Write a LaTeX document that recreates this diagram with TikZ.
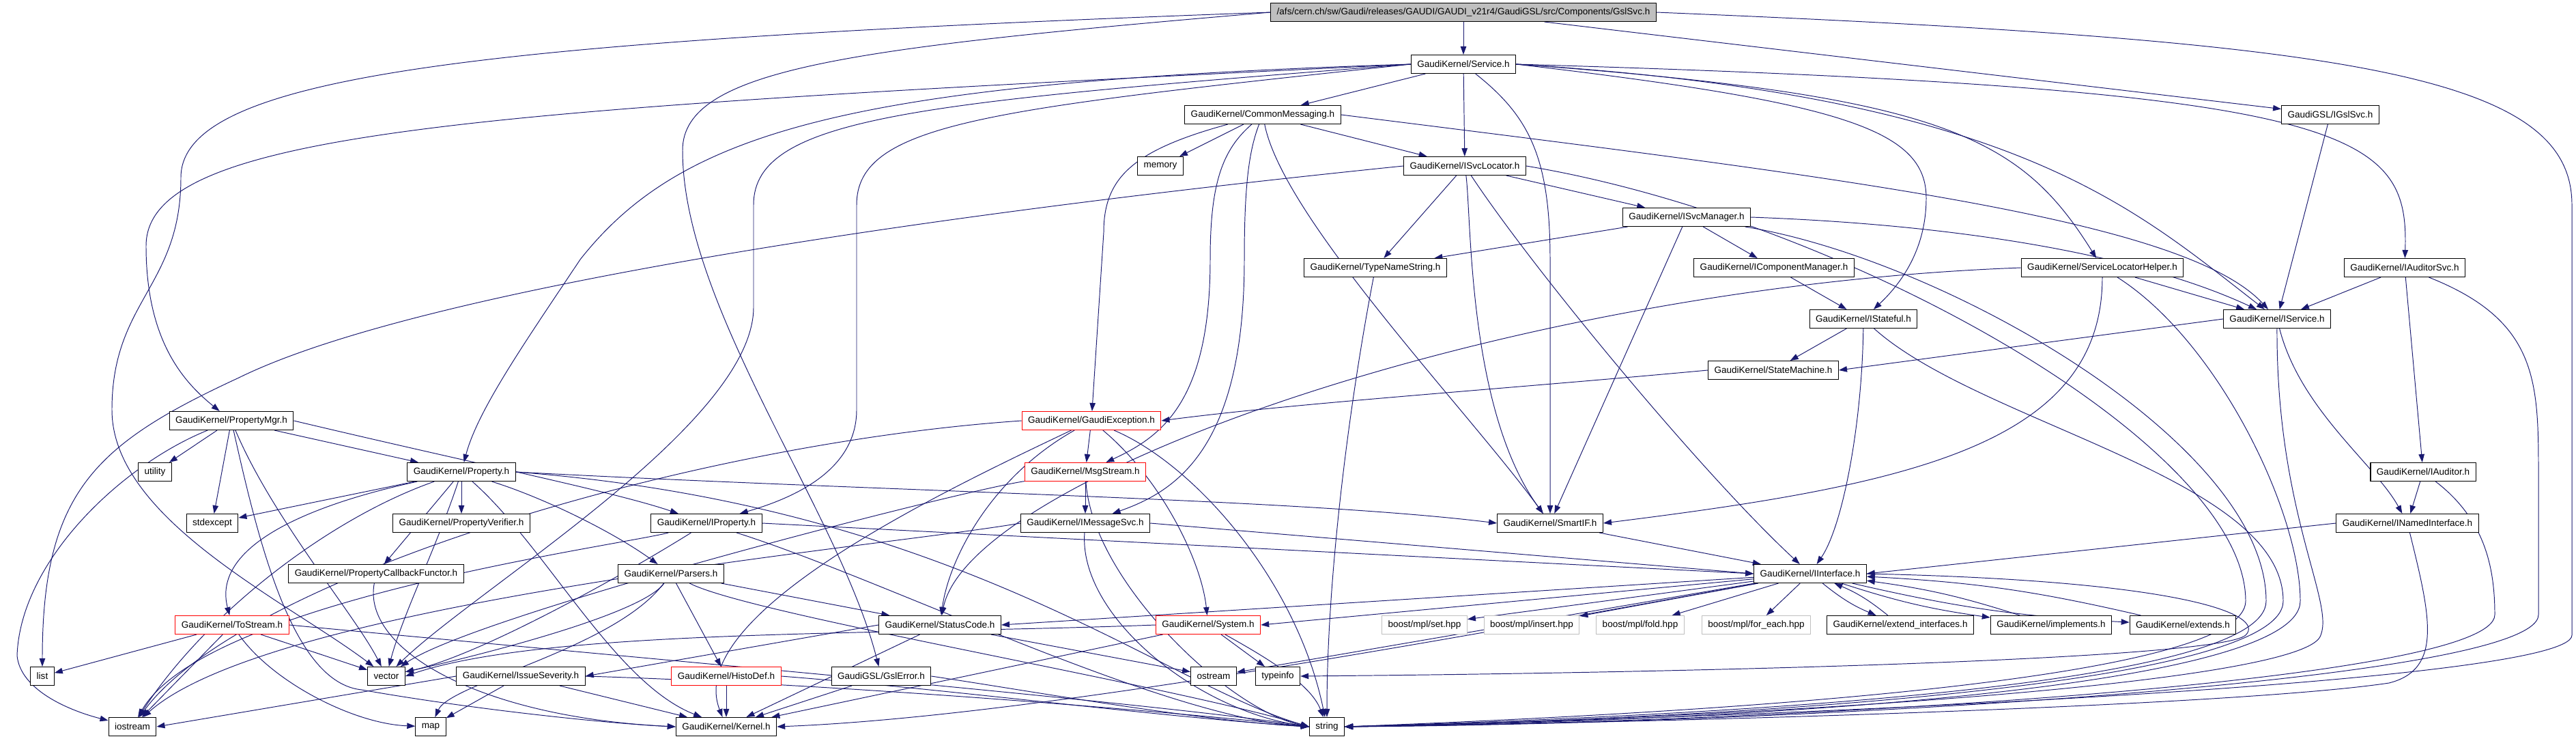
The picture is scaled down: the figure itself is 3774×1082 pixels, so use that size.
\documentclass[tikz,border=0pt]{standalone}
\usepackage{fontspec}
\setmainfont{Liberation Sans}
\usetikzlibrary{arrows.meta}
\definecolor{edgeblue}{RGB}{25,25,112}
\pgfdeclarelayer{background}
\pgfsetlayers{background,main}

\begin{document}
\begin{tikzpicture}[x=0.02cm,y=-0.02cm,>={Triangle[length=0.24cm,width=0.17cm]},
  file/.style={draw,fill=white,line width=0.6pt,inner xsep=0.18cm,inner ysep=0pt,minimum height=0.54cm,font=\fontsize{7.7}{9}\selectfont},
  truncfile/.style={file,draw=red},
  sysfile/.style={file,draw=black!25},
  inc/.style={->,draw=edgeblue,line width=0.55pt}]
  \useasboundingbox (0,0) rectangle (3774,1082);

  \node[file,fill=black!25] (root) at (2144,18) {/afs/cern.ch/sw/Gaudi/releases/GAUDI/GAUDI\_v21r4/GaudiGSL/src/Components/GslSvc.h};
  \node[file] (service) at (2144,94) {GaudiKernel/Service.h};
  \node[file] (commsg) at (1850,168) {GaudiKernel/CommonMessaging.h};
  \node[file] (memory) at (1700,243) {memory};
  \node[file] (svcloc) at (2146,243) {GaudiKernel/ISvcLocator.h};
  \node[file] (svcmgr) at (2471,318) {GaudiKernel/ISvcManager.h};
  \node[file] (igslsvc) at (3414,168) {GaudiGSL/IGslSvc.h};
  \node[file] (typename) at (2015,392) {GaudiKernel/TypeNameString.h};
  \node[file] (compmgr) at (2599,392) {GaudiKernel/IComponentManager.h};
  \node[file] (slhelper) at (3080,392) {GaudiKernel/ServiceLocatorHelper.h};
  \node[file] (iaudsvc) at (3523,392) {GaudiKernel/IAuditorSvc.h};
  \node[file] (istateful) at (2730,467) {GaudiKernel/IStateful.h};
  \node[file] (iservice) at (3336,467) {GaudiKernel/IService.h};
  \node[file] (statemach) at (2598,542) {GaudiKernel/StateMachine.h};
  \node[file] (propmgr) at (339,616) {GaudiKernel/PropertyMgr.h};
  \node[truncfile] (gexcept) at (1599,616) {GaudiKernel/GaudiException.h};
  \node[file] (utility) at (227,691) {utility};
  \node[file] (property) at (676,691) {GaudiKernel/Property.h};
  \node[truncfile] (msgstream) at (1590,691) {GaudiKernel/MsgStream.h};
  \node[file] (iauditor) at (3550,691) {GaudiKernel/IAuditor.h};
  \node[file] (stdexcept) at (311,766) {stdexcept};
  \node[file] (propverif) at (676,766) {GaudiKernel/PropertyVerifier.h};
  \node[file] (iproperty) at (1035,766) {GaudiKernel/IProperty.h};
  \node[file] (imsgsvc) at (1590,766) {GaudiKernel/IMessageSvc.h};
  \node[file] (smartif) at (2271,766) {GaudiKernel/SmartIF.h};
  \node[file] (inamed) at (3527,766) {GaudiKernel/INamedInterface.h};
  \node[file] (pcbfunctor) at (551,840) {GaudiKernel/PropertyCallbackFunctor.h};
  \node[file] (parsers) at (983,840) {GaudiKernel/Parsers.h};
  \node[file] (iinterface) at (2652,840) {GaudiKernel/IInterface.h};
  \node[truncfile] (tostream) at (340,915) {GaudiKernel/ToStream.h};
  \node[file] (statuscode) at (1377,915) {GaudiKernel/StatusCode.h};
  \node[truncfile] (system) at (1770,915) {GaudiKernel/System.h};
  \node[sysfile] (mplset) at (2087,915) {boost/mpl/set.hpp};
  \node[sysfile] (mplinsert) at (2244,915) {boost/mpl/insert.hpp};
  \node[sysfile] (mplfold) at (2403,915) {boost/mpl/fold.hpp};
  \node[sysfile] (mplforeach) at (2573,915) {boost/mpl/for\_each.hpp};
  \node[file] (extendif) at (2784,915) {GaudiKernel/extend\_interfaces.h};
  \node[file] (implements) at (3005,915) {GaudiKernel/implements.h};
  \node[file] (extends) at (3198,915) {GaudiKernel/extends.h};
  \node[file] (list) at (62,990) {list};
  \node[file] (vector) at (566,990) {vector};
  \node[file] (severity) at (763,990) {GaudiKernel/IssueSeverity.h};
  \node[truncfile] (histodef) at (1064,990) {GaudiKernel/HistoDef.h};
  \node[file] (gslerror) at (1291,990) {GaudiGSL/GslError.h};
  \node[file] (ostream) at (1778,990) {ostream};
  \node[file] (typeinfo) at (1872,990) {typeinfo};
  \node[file] (iostream) at (194,1064) {iostream};
  \node[file] (map) at (631,1064) {map};
  \node[file] (kernel) at (1064,1064) {GaudiKernel/Kernel.h};
  \node[file] (string) at (1944,1064) {string};

  \begin{pgfonlayer}{background}
  \draw[inc] (root) -- (service);
  \draw[inc] (root) -- (igslsvc);
  \draw[inc] (root.east) .. controls (3450,60) and (3768,110) .. (3768,300) -- (3768,930) .. controls (3768,1000) and (2600,1050) .. (string.east);
  \draw[inc] (root.west) .. controls (700,60) and (265,110) .. (265,260) .. controls (265,420) and (164,440) .. (164,600) .. controls (164,760) and (420,880) .. (vector);
  \draw[inc] (root.west) .. controls (1250,70) and (1000,100) .. (1000,220) .. controls (1000,450) and (1230,750) .. (gslerror);

  \draw[inc] (service) -- (commsg);
  \draw[inc] (service) -- (svcloc);
  \draw[inc] (service) .. controls (2240,170) and (2271,230) .. (2271,380) -- (smartif);
  \draw[inc] (service.west) .. controls (700,160) and (214,190) .. (214,360) .. controls (214,500) and (270,560) .. (propmgr);
  \draw[inc] (service.west) .. controls (1250,120) and (1000,190) .. (850,380) .. controls (770,500) and (700,600) .. (property);
  \draw[inc] (service.west) .. controls (1350,150) and (1104,170) .. (1104,300) -- (1104,450) .. controls (1104,620) and (700,860) .. (vector);
  \draw[inc] (service.west) .. controls (1450,160) and (1255,180) .. (1255,300) -- (1255,600) .. controls (1255,690) and (1160,730) .. (iproperty);
  \draw[inc] (service.east) .. controls (2950,140) and (3120,300) .. (iservice);
  \draw[inc] (service.east) .. controls (2850,140) and (2960,200) .. (slhelper);
  \draw[inc] (service.east) .. controls (2700,150) and (2822,190) .. (2822,290) .. controls (2822,370) and (2780,420) .. (istateful);
  \draw[inc] (service.east) .. controls (3450,130) and (3529,190) .. (iaudsvc);

  \draw[inc] (commsg) -- (memory);
  \draw[inc] (commsg) -- (svcloc);
  \draw[inc] (commsg.east) .. controls (2700,260) and (3200,320) .. (iservice);
  \draw[inc] (commsg) .. controls (1660,220) and (1617,260) .. (1617,340) -- (gexcept);
  \draw[inc] (commsg) .. controls (1790,220) and (1773,270) .. (1773,380) .. controls (1773,590) and (1700,640) .. (msgstream);
  \draw[inc] (commsg) .. controls (1830,220) and (1823,270) .. (1823,380) .. controls (1823,660) and (1720,720) .. (imsgsvc);
  \draw[inc] (commsg) .. controls (1880,320) and (2150,600) .. (smartif);

  \draw[inc] (svcloc) -- (svcmgr);
  \draw[inc] (svcloc) -- (typename);
  \draw[inc] (svcloc) .. controls (2156,320) and (2150,600) .. (smartif);
  \draw[inc] (svcloc) .. controls (2250,400) and (2500,700) .. (iinterface);
  \draw[inc] (svcloc.west) .. controls (1300,320) and (600,430) .. (350,553) .. controls (140,650) and (62,720) .. (list);
  \draw[inc] (svcloc.east) .. controls (2700,320) and (3290,650) .. (3290,880) .. controls (3290,990) and (2600,1040) .. (string.east);

  \draw[inc] (svcmgr) -- (typename);
  \draw[inc] (svcmgr) -- (compmgr);
  \draw[inc] (svcmgr.east) .. controls (2900,330) and (3150,380) .. (iservice);
  \draw[inc] (svcmgr) -- (smartif);
  \draw[inc] (svcmgr) .. controls (2850,380) and (3320,650) .. (3320,880) .. controls (3320,1000) and (2600,1045) .. (string.east);

  \draw[inc] (typename) .. controls (1975,600) and (1944,850) .. (string);
  \draw[inc] (compmgr) -- (istateful);
  \draw[inc] (istateful) -- (statemach);
  \draw[inc] (istateful) .. controls (2728,620) and (2700,770) .. (iinterface);
  \draw[inc] (istateful) .. controls (2900,620) and (3345,700) .. (3345,880) .. controls (3345,1000) and (2600,1050) .. (string.east);
  \draw[inc] (statemach.west) .. controls (2200,570) and (1900,590) .. (gexcept.east);
  \draw[inc] (igslsvc) -- (iservice);
  \draw[inc] (slhelper) -- (iservice);
  \draw[inc] (slhelper.west) .. controls (2200,420) and (1420,700) .. (statuscode);
  \draw[inc] (slhelper) .. controls (3080,650) and (2800,710) .. (smartif.east);
  \draw[inc] (slhelper) .. controls (3250,500) and (3370,750) .. (3370,880) .. controls (3370,1005) and (2600,1055) .. (string.east);
  \draw[inc] (iaudsvc) -- (iservice);
  \draw[inc] (iaudsvc) -- (iauditor);
  \draw[inc] (iaudsvc) .. controls (3720,470) and (3719,560) .. (3719,700) -- (3719,900) .. controls (3719,1000) and (2600,1060) .. (string.east);
  \draw[inc] (iservice.west) -- (statemach.east);
  \draw[inc] (iservice) .. controls (3370,600) and (3480,680) .. (inamed);
  \draw[inc] (iservice) .. controls (3335,750) and (3420,880) .. (3400,930) .. controls (3380,1000) and (2600,1050) .. (string.east);
  \draw[inc] (iauditor) -- (inamed);
  \draw[inc] (iauditor) .. controls (3640,760) and (3655,830) .. (3655,900) .. controls (3655,1000) and (2600,1058) .. (string.east);
  \draw[inc] (inamed.west) -- (iinterface.east);
  \draw[inc] (inamed) .. controls (3560,900) and (3580,980) .. (3500,1000) .. controls (3300,1030) and (2600,1055) .. (string.east);

  \draw[inc] (propmgr) -- (utility);
  \draw[inc] (propmgr) -- (property);
  \draw[inc] (propmgr) -- (stdexcept);
  \draw[inc] (propmgr.east) .. controls (700,680) and (900,720) .. (iproperty);
  \draw[inc] (propmgr) .. controls (180,680) and (30,820) .. (25,960) .. controls (30,1010) and (100,1040) .. (iostream);
  \draw[inc] (propmgr) .. controls (380,800) and (430,1000) .. (530,1010) .. controls (700,1040) and (900,1060) .. (kernel.west);
  \draw[inc] (propmgr) .. controls (400,760) and (520,900) .. (vector);

  \draw[inc] (property) -- (stdexcept);
  \draw[inc] (property) -- (propverif);
  \draw[inc] (property) -- (pcbfunctor);
  \draw[inc] (property) .. controls (800,730) and (900,780) .. (parsers);
  \draw[inc] (property) .. controls (450,740) and (310,800) .. (tostream);
  \draw[inc] (property.east) .. controls (1300,720) and (1900,730) .. (smartif.west);
  \draw[inc] (property) .. controls (480,760) and (300,900) .. (iostream);
  \draw[inc] (property) .. controls (640,800) and (590,900) .. (vector);
  \draw[inc] (property) .. controls (800,800) and (900,1000) .. (kernel);
  \draw[inc] (property.east) .. controls (1400,740) and (1700,1000) .. (string.west);

  \draw[inc] (iproperty.east) -- (iinterface.west);
  \draw[inc] (iproperty) .. controls (900,800) and (300,880) .. (iostream);
  \draw[inc] (iproperty) .. controls (1300,850) and (1700,1050) .. (string.west);
  \draw[inc] (iproperty) .. controls (900,850) and (700,960) .. (vector);
  \draw[inc] (pcbfunctor) .. controls (530,950) and (700,1050) .. (kernel.west);

  \draw[inc] (parsers) -- (statuscode);
  \draw[inc] (parsers) -- (histodef);
  \draw[inc] (parsers) .. controls (940,900) and (700,960) .. (vector);
  \draw[inc] (parsers) .. controls (900,950) and (660,1000) .. (map);
  \draw[inc] (parsers) .. controls (1100,900) and (1700,1000) .. (string.west);

  \draw[inc] (tostream) -- (list);
  \draw[inc] (tostream) -- (iostream);
  \draw[inc] (tostream) -- (vector);
  \draw[inc] (tostream) .. controls (400,1000) and (520,1060) .. (map);
  \draw[inc] (tostream.east) .. controls (900,960) and (1700,1030) .. (string.west);

  \draw[inc] (severity) -- (map);
  \draw[inc] (severity.west) -- (iostream.east);
  \draw[inc] (severity) -- (kernel);
  \draw[inc] (severity.east) .. controls (1200,1000) and (1700,1040) .. (string.west);

  \draw[inc] (gexcept) -- (msgstream);
  \draw[inc] (gexcept) .. controls (1450,700) and (1390,820) .. (statuscode);
  \draw[inc] (gexcept) .. controls (1700,700) and (1760,820) .. (system);
  \draw[inc] (gexcept) .. controls (1380,720) and (1000,900) .. (kernel);
  \draw[inc] (gexcept) .. controls (1750,680) and (1900,850) .. (string);
  \draw[inc] (gexcept.west) .. controls (1000,650) and (350,850) .. (iostream);

  \draw[inc] (msgstream) -- (imsgsvc);
  \draw[inc] (msgstream) .. controls (1400,720) and (700,900) .. (vector);
  \draw[inc] (msgstream) .. controls (1600,850) and (1800,1040) .. (string.west);
  \draw[inc] (imsgsvc.east) -- (iinterface.west);
  \draw[inc] (imsgsvc) .. controls (1580,900) and (1750,1040) .. (string.west);
  \draw[inc] (imsgsvc.west) .. controls (1300,800) and (400,880) .. (iostream);

  \draw[inc] (statuscode) -- (ostream);
  \draw[inc] (statuscode) -- (kernel);
  \draw[inc] (statuscode.west) -- (severity.east);
  \draw[inc] (system) -- (kernel);
  \draw[inc] (system) -- (typeinfo);
  \draw[inc] (system.west) .. controls (1300,930) and (800,920) .. (vector.east);
  \draw[inc] (system) .. controls (1850,960) and (1920,1000) .. (string);
  \draw[inc] (histodef) -- (kernel);
  \draw[inc] (histodef.east) .. controls (1400,1010) and (1700,1050) .. (string.west);
  \draw[inc] (gslerror) -- (kernel);
  \draw[inc] (gslerror.east) .. controls (1500,1010) and (1750,1055) .. (string.west);

  \draw[inc] (smartif) -- (iinterface);
  \draw[inc] (iinterface) -- (statuscode.east);
  \draw[inc] (iinterface) -- (system.east);
  \draw[inc] (iinterface) -- (ostream);
  \draw[inc] (iinterface) .. controls (2100,940) and (1500,1050) .. (kernel.east);
  \draw[inc] (iinterface.east) .. controls (3200,850) and (3320,900) .. (3290,930) .. controls (3250,965) and (2500,985) .. (typeinfo.east);
  \draw[inc] (iinterface) -- (mplset);
  \draw[inc] (iinterface) -- (mplinsert);
  \draw[inc] (iinterface) -- (mplfold);
  \draw[inc] (iinterface) -- (mplforeach);
  \draw[inc] (iinterface) to[bend right=8] (extendif);
  \draw[inc] (extendif) to[bend right=8] (iinterface);
  \draw[inc] (iinterface) to[bend right=5] (implements);
  \draw[inc] (implements) to[bend right=5] (iinterface);
  \draw[inc] (iinterface) to[bend right=5] (extends);
  \draw[inc] (extends) to[bend right=5] (iinterface);
  \end{pgfonlayer}
\end{tikzpicture}
\end{document}
